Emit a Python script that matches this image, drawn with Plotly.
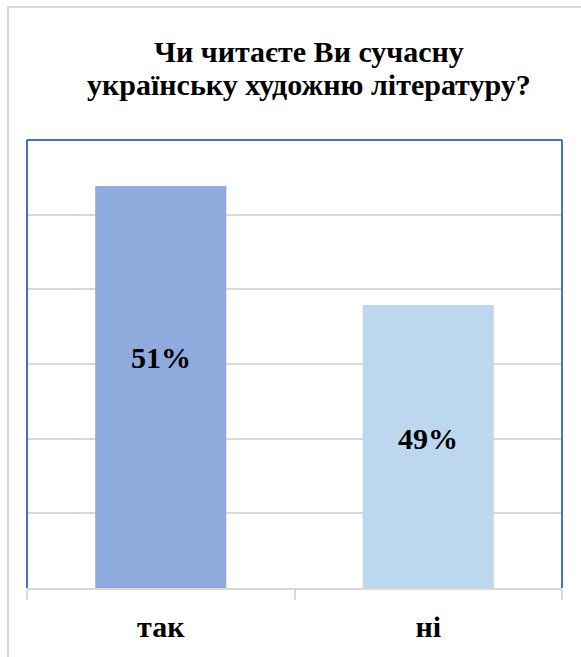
import plotly.graph_objects as go

# ---- data ----
categories = ["так", "ні"]
values = [51, 49]
labels = ["51%", "49%"]
bar_colors = ["#8FAADC", "#BDD7EE"]
title_lines = ["Чи читаєте Ви сучасну", "українську художню літературу?"]

# ---- geometry (pixels) ----
W, H = 581, 657
L, R, T, B = 27, 19, 140, 69
plot_w = W - L - R
plot_h = H - T - B

y_min = 44.244
px_per_unit = 59.5
y_max = y_min + plot_h / px_per_unit
dtick = (y_max - y_min) / 6

FONT = "Liberation Serif"


def px2paper_x(px):
    return (px - L) / plot_w


def px2paper_y(py):
    return (H - B - py) / plot_h


fig = go.Figure(
    go.Bar(
        x=categories,
        y=values,
        marker=dict(color=bar_colors, line=dict(width=0)),
        width=0.49,
        hoverinfo="skip",
    )
)

label_frac = [0.573, 0.53]
for cat, v, lab, f in zip(categories, values, labels, label_frac):
    fig.add_annotation(
        x=cat,
        y=y_min + (v - y_min) * f,
        text="<b>" + lab + "</b>",
        showarrow=False,
        font=dict(family=FONT, size=30, color="#000000"),
        xanchor="center",
        yanchor="middle",
    )

# title as two separate lines (tighter line spacing than plotly's default)
title_centres = [51, 84]
for line, cy in zip(title_lines, title_centres):
    fig.add_annotation(
        xref="paper",
        yref="paper",
        x=px2paper_x(309),
        y=px2paper_y(cy),
        text="<b>" + line + "</b>",
        showarrow=False,
        font=dict(family=FONT, size=30, color="#000000"),
        xanchor="center",
        yanchor="middle",
    )

shapes = []
blue = "#4472C4"
shapes.append(dict(type="line", xref="paper", yref="paper", x0=0, x1=0, y0=0, y1=1,
                   line=dict(color=blue, width=2)))
shapes.append(dict(type="line", xref="paper", yref="paper", x0=0, x1=1, y0=1, y1=1,
                   line=dict(color=blue, width=2)))
shapes.append(dict(type="line", xref="paper", yref="paper", x0=1, x1=1, y0=0, y1=1,
                   line=dict(color=blue, width=2)))
frame_col = "#D9D9D9"
shapes.append(dict(type="line", xref="paper", yref="paper",
                   x0=px2paper_x(8), x1=px2paper_x(8),
                   y0=px2paper_y(6), y1=px2paper_y(700),
                   line=dict(color=frame_col, width=2)))
shapes.append(dict(type="line", xref="paper", yref="paper",
                   x0=px2paper_x(7), x1=px2paper_x(700),
                   y0=px2paper_y(7), y1=px2paper_y(7),
                   line=dict(color=frame_col, width=2)))

fig.update_layout(
    width=W,
    height=H,
    margin=dict(l=L, r=R, t=T, b=B, pad=0),
    paper_bgcolor="#FFFFFF",
    plot_bgcolor="#FFFFFF",
    showlegend=False,
    bargap=0.51,
    shapes=shapes,
    xaxis=dict(
        showgrid=False,
        showline=True,
        linecolor="#D9D9D9",
        linewidth=2,
        ticks="outside",
        tickson="boundaries",
        ticklen=10,
        tickwidth=2,
        tickcolor="#D9D9D9",
        tickfont=dict(family=FONT, size=30, color="#000000"),
        ticklabelstandoff=11,
        tickvals=categories,
        ticktext=["<b>" + c + "</b>" for c in categories],
    ),
    yaxis=dict(
        range=[y_min, y_max],
        tick0=y_min,
        dtick=dtick,
        showgrid=True,
        gridcolor="#D9D9D9",
        gridwidth=2,
        showticklabels=False,
        zeroline=False,
        showline=False,
        ticks="",
    ),
)

fig.write_html(
    "out.html",
    config={"displayModeBar": False},
    post_script="document.body.style.margin='0';document.body.style.overflow='hidden';",
)
